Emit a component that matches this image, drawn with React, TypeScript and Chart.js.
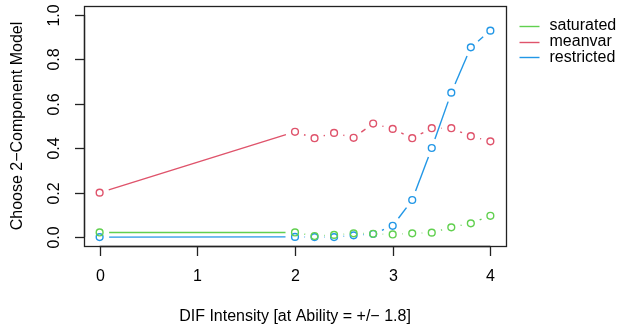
import React, { useEffect, useRef } from "react";
import { Chart, registerables } from "chart.js";

Chart.register(...registerables);

const xValues = [0, 2, 2.2, 2.4, 2.6, 2.8, 3, 3.2, 3.4, 3.6, 3.8, 4];
const saturated = [0.021, 0.021, 0.005, 0.01, 0.017, 0.015, 0.012, 0.017, 0.02, 0.044, 0.062, 0.096];
const meanvar = [0.2, 0.474, 0.445, 0.469, 0.447, 0.511, 0.487, 0.445, 0.49, 0.49, 0.454, 0.431];
const restricted = [0.0, 0.001, 0.0, 0.0, 0.008, 0.014, 0.051, 0.167, 0.401, 0.65, 0.854, 0.929];

const seriesNames = ["saturated", "meanvar", "restricted"];
const seriesColors = ["#61D04F", "#DF536B", "#2297E6"];
const xTicks = [0, 1, 2, 3, 4];
const yTicks = [0, 0.2, 0.4, 0.6, 0.8, 1.0];
const xTitle = "DIF Intensity [at Ability = +/\u2212 1.8]";
const yTitle = "Choose 2\u2212Component Model";

const FONT = '16px "Liberation Sans", Arial, Helvetica, sans-serif';
const SERIES_LW = 1.4;

const gapLinesPlugin = {
  id: "gapLines",
  beforeDatasetsDraw(chart: any) {
    const ctx = chart.ctx;
    const gap = 9.5;
    ctx.save();
    chart.data.datasets.forEach((ds: any, i: number) => {
      const meta = chart.getDatasetMeta(i);
      const pts = meta.data;
      ctx.strokeStyle = ds.borderColor;
      ctx.lineWidth = SERIES_LW;
      for (let k = 0; k < pts.length - 1; k++) {
        const a = pts[k];
        const b = pts[k + 1];
        const dx = b.x - a.x;
        const dy = b.y - a.y;
        const len = Math.sqrt(dx * dx + dy * dy);
        if (len <= 2 * gap) continue;
        const ux = dx / len;
        const uy = dy / len;
        ctx.beginPath();
        ctx.moveTo(a.x + ux * gap, a.y + uy * gap);
        ctx.lineTo(b.x - ux * gap, b.y - uy * gap);
        ctx.stroke();
      }
    });
    ctx.restore();
  },
};

const axesPlugin = {
  id: "rAxes",
  afterDraw(chart: any) {
    const ctx = chart.ctx;
    const area = chart.chartArea;
    const xs = chart.scales.x;
    const ys = chart.scales.y;
    const tick = 9.5;
    ctx.save();
    ctx.strokeStyle = "#222";
    ctx.fillStyle = "#000";
    ctx.lineWidth = 1.3;
    // frame
    ctx.strokeRect(Math.round(area.left) + 0.5, Math.round(area.top) + 0.5,
      Math.round(area.right - area.left), Math.round(area.bottom - area.top));
    const bottom = Math.round(area.bottom) + 0.5;
    const left = Math.round(area.left) + 0.5;
    ctx.font = FONT;
    // x axis
    ctx.beginPath();
    ctx.moveTo(xs.getPixelForValue(xTicks[0]), bottom);
    ctx.lineTo(xs.getPixelForValue(xTicks[xTicks.length - 1]), bottom);
    ctx.stroke();
    ctx.textAlign = "center";
    ctx.textBaseline = "middle";
    xTicks.forEach((v) => {
      const px = Math.round(xs.getPixelForValue(v)) + 0.5;
      ctx.beginPath();
      ctx.moveTo(px, bottom);
      ctx.lineTo(px, bottom + tick);
      ctx.stroke();
      ctx.fillText(String(v), px, area.bottom + 31);
    });
    // y axis
    ctx.beginPath();
    ctx.moveTo(left, ys.getPixelForValue(yTicks[0]));
    ctx.lineTo(left, ys.getPixelForValue(yTicks[yTicks.length - 1]));
    ctx.stroke();
    yTicks.forEach((v) => {
      const py = Math.round(ys.getPixelForValue(v)) + 0.5;
      ctx.beginPath();
      ctx.moveTo(left, py);
      ctx.lineTo(left - tick, py);
      ctx.stroke();
      ctx.save();
      ctx.translate(area.left - 29, py);
      ctx.rotate(-Math.PI / 2);
      ctx.fillText(v.toFixed(1), 0, 0);
      ctx.restore();
    });
    // titles
    ctx.fillText(xTitle, (xs.getPixelForValue(xs.min) + xs.getPixelForValue(xs.max)) / 2, area.bottom + 71);
    ctx.save();
    ctx.translate(area.left - 66, (area.top + area.bottom) / 2);
    ctx.rotate(-Math.PI / 2);
    ctx.fillText(yTitle, 0, 0);
    ctx.restore();
    // legend
    ctx.textAlign = "left";
    const lx = area.right + 13.5;
    seriesNames.forEach((name, i) => {
      const ly = area.top + 20 + i * 15.6;
      ctx.strokeStyle = seriesColors[i];
      ctx.lineWidth = SERIES_LW;
      ctx.beginPath();
      ctx.moveTo(lx, Math.round(ly) + 0.5);
      ctx.lineTo(lx + 20, Math.round(ly) + 0.5);
      ctx.stroke();
      ctx.fillStyle = "#000";
      ctx.fillText(name, lx + 30, ly);
    });
    ctx.restore();
  },
};

export default function App() {
  const ref = useRef<HTMLCanvasElement>(null);
  useEffect(() => {
    if (!ref.current) return;
    const seriesData = [saturated, meanvar, restricted];
    const chart = new Chart(ref.current, {
      type: "scatter",
      data: {
        datasets: seriesNames.map((name, i) => ({
          label: name,
          data: xValues.map((x, k) => ({ x, y: seriesData[i][k] })),
          borderColor: seriesColors[i],
          backgroundColor: "rgba(0,0,0,0)",
          pointRadius: 3.4,
          pointBorderWidth: SERIES_LW,
          pointHoverRadius: 3.4,
          showLine: false,
        })),
      },
      options: {
        animation: false,
        responsive: false,
        devicePixelRatio: 1,
        events: [],
        layout: { padding: { left: 84, top: 6, right: 115, bottom: 80 } },
        plugins: { legend: { display: false }, tooltip: { enabled: false } },
        scales: {
          x: { type: "linear", min: -0.16, max: 4.16, display: false },
          y: { type: "linear", min: -0.04, max: 1.04, display: false },
        },
      },
      plugins: [gapLinesPlugin, axesPlugin],
    });
    return () => chart.destroy();
  }, []);
  return (
    <div style={{ position: "absolute", left: 0, top: 0, width: 621, height: 326, background: "#fff" }}>
      <canvas ref={ref} width={621} height={326} />
    </div>
  );
}
